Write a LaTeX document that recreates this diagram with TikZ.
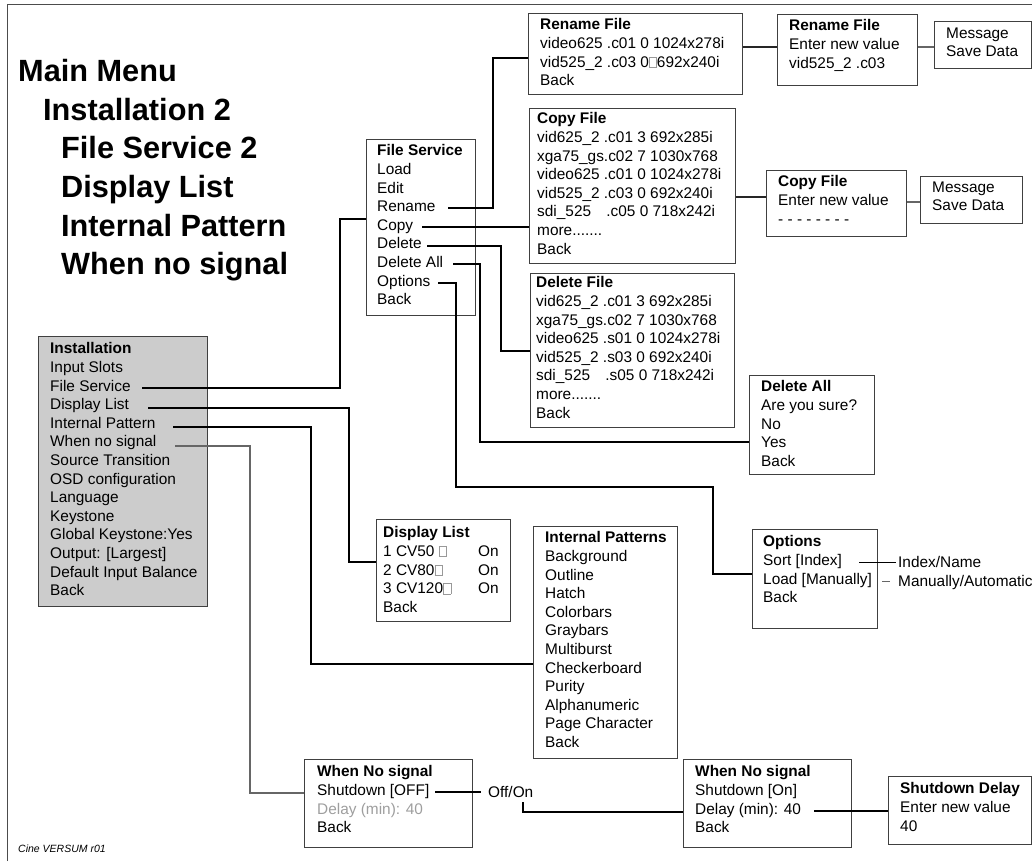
\documentclass[tikz,border=0pt]{standalone}
\usepackage{fontspec}
\setmainfont{Liberation Sans}
\usetikzlibrary{calc}
\newcommand\sqmark{\textcolor{black!40}{\setlength{\fboxsep}{0pt}\setlength{\fboxrule}{0.5pt}\fbox{\rule{0pt}{10pt}\rule{7pt}{0pt}}}}
\begin{document}
\begin{tikzpicture}[x=1pt,y=-1pt,
 boxst/.style={draw=black!75, line width=0.9pt, inner sep=0pt, anchor=north west},
 txt/.style={inner sep=0pt, anchor=north west, align=left, font=\fontsize{15.4}{18.6}\selectfont, execute at begin node=\strut},
 head/.style={inner sep=0pt, anchor=base west, font=\fontsize{30.7}{36}\selectfont\bfseries},
 lbl/.style={inner sep=0pt, anchor=base west, font=\fontsize{15.4}{18.6}\selectfont},
 heavy/.style={line width=2.6pt, black},
 medium/.style={line width=2pt, black!85},
 light/.style={line width=1.4pt, black!60},
 fine/.style={line width=1pt, black},
]
\useasboundingbox (0,0) rectangle (1032,861);
% frame
\draw[line width=1pt, black!70] (7,861) -- (7,5) -- (1032,5);

% headings
\node[head] (h1) at (18,82) {Main Menu};
\node[head] (h2) at (43,120.5) {Installation 2};
\node[head] (h3) at (61,159) {File Service 2};
\node[head] (h4) at (61,197.5) {Display List};
\node[head] (h5) at (61,236) {Internal Pattern};
\node[head] (h6) at (61,274.5) {When no signal};

% boxes
\node[boxst, fill=black!20, minimum width=169, minimum height=270] (inst) at (38,336) {};
\node[txt] (instT) at (50,342.5) {\textbf{Installation}\\Input Slots\\File Service\\Display List\\Internal Pattern\\When no signal\\Source Transition\\OSD configuration\\Language\\Keystone\\Global Keystone:Yes\\Output: [Largest]\\Default Input Balance\\Back};

\node[boxst, minimum width=109, minimum height=176] (fs) at (366,139) {};
\node[txt] (fsT) at (377,144.5) {\textbf{File Service}\\Load\\Edit\\Rename\\Copy\\Delete\\Delete All\\Options\\Back};

\node[boxst, minimum width=214, minimum height=81] (ren1) at (528,13) {};
\node[txt] (ren1T) at (540,18.5) {\textbf{Rename File}\\video625 .c01 0 1024x278i\\vid525\_2 .c03 0\sqmark692x240i\\Back};

\node[boxst, minimum width=140, minimum height=71] (ren2) at (777,14) {};
\node[txt] (ren2T) at (789,19.5) {\textbf{Rename File}\\Enter new value\\vid525\_2 .c03};

\node[boxst, minimum width=97, minimum height=47] (msg1) at (934,21) {};
\node[txt] (msg1T) at (946,27.5) {Message\\Save Data};

\node[boxst, minimum width=206, minimum height=155] (copy1) at (529,108) {};
\node[txt] (copy1T) at (537,112.5) {\textbf{Copy File}\\vid625\_2 .c01 3 692x285i\\xga75\_gs.c02 7 1030x768\\video625 .c01 0 1024x278i\\vid525\_2 .c03 0 692x240i\\sdi\_525\hspace{11pt} .c05 0 718x242i\\more.......\\Back};

\node[boxst, minimum width=140, minimum height=66] (copy2) at (766,170) {};
\node[txt] (copy2T) at (778,175.5) {\textbf{Copy File}\\Enter new value\\- - - - - - - -};

\node[boxst, minimum width=102, minimum height=47] (msg2) at (920,176) {};
\node[txt] (msg2T) at (932,181.5) {Message\\Save Data};

\node[boxst, minimum width=204, minimum height=154] (del) at (530,273) {};
\node[txt] (delT) at (536,276.5) {\textbf{Delete File}\\vid625\_2 .c01 3 692x285i\\xga75\_gs.c02 7 1030x768\\video625 .s01 0 1024x278i\\vid525\_2 .s03 0 692x240i\\sdi\_525\hspace{11pt} .s05 0 718x242i\\more.......\\Back};

\node[boxst, minimum width=125, minimum height=99] (dall) at (749,375) {};
\node[txt] (dallT) at (761,380.5) {\textbf{Delete All}\\Are you sure?\\No\\Yes\\Back};

\node[boxst, minimum width=134, minimum height=102] (dl) at (376,519) {};
\node[txt] (dlT) at (383,526.5) {\textbf{Display List}\\\makebox[95pt][l]{1 CV50 \sqmark}On\\\makebox[95pt][l]{2 CV80\sqmark}On\\\makebox[95pt][l]{3 CV120\sqmark}On\\Back};

\node[boxst, minimum width=144, minimum height=232] (ip) at (533,526) {};
\node[txt] (ipT) at (545,531.5) {\textbf{Internal Patterns}\\Background\\Outline\\Hatch\\Colorbars\\Graybars\\Multiburst\\Checkerboard\\Purity\\Alphanumeric\\Page Character\\Back};

\node[boxst, minimum width=125, minimum height=99] (opt) at (752,529) {};
\node[txt] (optT) at (763,535.5) {\textbf{Options}\\Sort [Index]\\Load [Manually]\\Back};

\node[boxst, minimum width=168, minimum height=88] (wn1) at (304,759) {};
\node[txt] (wn1T) at (317,765.5) {\textbf{When No signal}\\Shutdown [OFF]\\\textcolor{black!38}{Delay (min): 40}\\Back};

\node[boxst, minimum width=168, minimum height=88] (wn2) at (683,759) {};
\node[txt] (wn2T) at (695,765.5) {\textbf{When No signal}\\Shutdown [On]\\Delay (min): 40\\Back};

\node[boxst, minimum width=143, minimum height=68] (sd) at (888,776) {};
\node[txt] (sdT) at (900,782.5) {\textbf{Shutdown Delay}\\Enter new value\\40};

% labels
\node[lbl] (idx) at (898,567.5) {Index/Name};
\node[lbl] (man) at (898,586.5) {Manually/Automatic};
\node[lbl] (offon) at (488,797.5) {Off/On};
\node[inner sep=0pt, anchor=base west, font=\fontsize{10.5}{12}\selectfont\itshape] (cine) at (18,852) {Cine VERSUM r01};

% start coordinates
\coordinate (cInstFS) at (142,388);
\coordinate (cInstDL) at (148,408);
\coordinate (cInstIP) at (173,427);
\coordinate (cInstWN) at (175,446);
\coordinate (cFSRen) at (448,208);
\coordinate (cFSCopy) at (422,227);
\coordinate (cFSDel) at (427,246);
\coordinate (cFSDall) at (453,264);
\coordinate (cFSOpt) at (438,283);
\coordinate (cSort) at (859,562);
\coordinate (cLoad) at (882,581);
\coordinate (cLoadEnd) at (890,581);
\coordinate (cShut) at (435,792);
\coordinate (cOffOn) at (523,802);
\coordinate (cDelay) at (814,811);

% connectors
\draw[heavy] (cInstFS) -| (340,219) -- (fs.west |- 0,219);
\draw[heavy] (cInstDL) -| (349,562) -- (dl.west |- 0,562);
\draw[heavy] (cInstIP) -| (311,664) -- (ip.west |- 0,664);
\draw[light] (cInstWN) -| (250,793) -- (wn1.west |- 0,793);
\draw[heavy] (cFSRen) -| (493,58) -- (ren1.west |- 0,58);
\draw[heavy] (cFSCopy) -- (copy1.west |- 0,227);
\draw[heavy] (cFSDel) -| (501,351) -- (del.west |- 0,351);
\draw[heavy] (cFSDall) -| (480,442) -- (dall.west |- 0,442);
\draw[heavy] (cFSOpt) -| (456,487) -| (713,574) -- (opt.west |- 0,574);
\draw[medium] (ren1.east |- 0,47) -- (ren2.west |- 0,47);
\draw[light] (ren2.east |- 0,47) -- (msg1.west |- 0,47);
\draw[medium] (copy1.east |- 0,197) -- (copy2.west |- 0,197);
\draw[light] (copy2.east |- 0,202) -- (msg2.west |- 0,202);
\draw[fine] (cSort) -- ($(idx.west |- 0,562)+(-2,0)$);
\draw[line width=1pt, black!60] (cLoad) -- (cLoadEnd);
\draw[heavy] (cShut) -- ($(offon.west |- 0,792)+(-7,0)$);
\draw[heavy] (cOffOn) |- (wn2.west |- 0,812);
\draw[heavy] (cDelay) -- (sd.west |- 0,811);
\end{tikzpicture}
\end{document}
